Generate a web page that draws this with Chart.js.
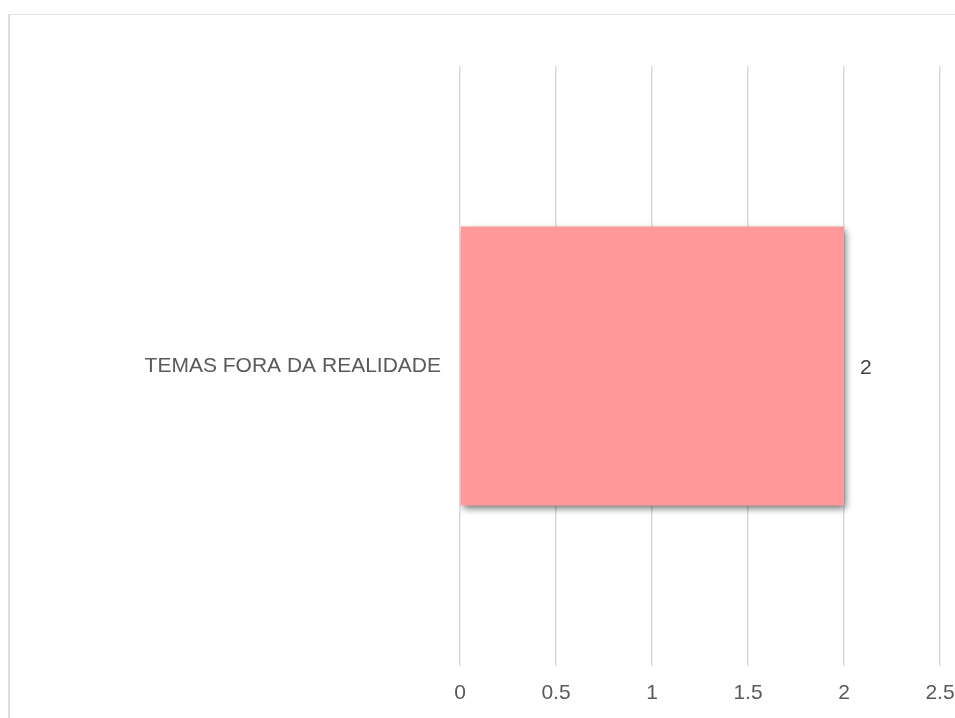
<!DOCTYPE html>
<html>
<head>
<meta charset="utf-8">
<script src="https://cdn.jsdelivr.net/npm/chart.js@4/dist/chart.umd.min.js"></script>
<style>
	html, body { margin: 0; padding: 0; background: #fff; }
	#wrap { position: relative; width: 955px; height: 718px; overflow: hidden; }
	#frame {
		position: absolute; left: 8px; top: 14px; width: 947px; height: 704px;
		border-left: 2px solid #dcdcdc; border-top: 1px solid #e3e3e3;
		box-sizing: border-box;
	}
	#chart { position: absolute; left: 0; top: 0; }
</style>
</head>
<body>
<div id="wrap">
	<div id="frame"></div>
	<canvas id="chart" width="955" height="718"></canvas>
</div>
<script>
const CATEGORIES	= [ 'TEMAS FORA DA REALIDADE' ];
const VALUES		= [ 2 ];
const X_TICKS		= [ 0, 0.5, 1, 1.5, 2, 2.5 ];

const FONT_FAMILY	= '"Liberation Sans", Arial, sans-serif';
const FONT_SIZE		= 21;

// drop shadow under the bars
const barShadow = {
	id: 'barShadow',
	beforeDatasetsDraw( chart ) {
		const c = chart.ctx;
		c.save();
		c.shadowColor	= 'rgba( 0, 0, 0, 0.55 )';
		c.shadowBlur	= 7;
		c.shadowOffsetX	= 2;
		c.shadowOffsetY	= 3;
	},
	afterDatasetsDraw( chart ) {
		chart.ctx.restore();
	}
};

// value label right of each bar
const valueLabels = {
	id: 'valueLabels',
	afterDraw( chart ) {
		const c		= chart.ctx;
		const meta	= chart.getDatasetMeta( 0 );
		c.save();
		c.font			= FONT_SIZE + 'px ' + FONT_FAMILY;
		c.fillStyle		= '#404040';
		c.textAlign		= 'left';
		c.textBaseline	= 'middle';
		meta.data.forEach( ( bar, i ) => {
			c.fillText( String( VALUES[ i ] ), bar.x + 16, bar.y + 2 );
		} );
		c.restore();
	}
};

new Chart( document.getElementById( 'chart' ), {
	type: 'bar',
	data: {
		labels: CATEGORIES,
		datasets: [ {
			data: VALUES,
			backgroundColor: '#ff9999',
			borderWidth: 0,
			categoryPercentage: 1,
			barPercentage: 0.465
		} ]
	},
	options: {
		indexAxis: 'y',
		responsive: false,
		animation: false,
		layout: { padding: { top: 66, right: 0, bottom: 0, left: 0 } },
		plugins: {
			legend: { display: false },
			tooltip: { enabled: false }
		},
		scales: {
			x: {
				min: 0,
				max: 2.5,
				afterBuildTicks: scale => {
					scale.ticks = X_TICKS.map( v => ( { value: v } ) );
				},
				afterFit: scale => {
					scale.height		= 52;
					scale.paddingLeft	= 0;
					scale.paddingRight	= 15;
				},
				border: { display: false },
				grid: { color: '#d9d9d9', lineWidth: 1.5, drawTicks: false },
				ticks: {
					padding: 15,
					color: '#595959',
					font: { family: FONT_FAMILY, size: FONT_SIZE },
					maxRotation: 0,
					callback: v => String( v )
				}
			},
			y: {
				border: { display: false },
				grid: { display: false, drawTicks: false },
				afterFit: scale => {
					scale.width			= 460;
					scale.paddingTop	= 0;
					scale.paddingBottom	= 0;
				},
				ticks: {
					padding: 19,
					color: '#595959',
					font: { family: FONT_FAMILY, size: FONT_SIZE }
				}
			}
		}
	},
	plugins: [ barShadow, valueLabels ]
} );
</script>
</body>
</html>
